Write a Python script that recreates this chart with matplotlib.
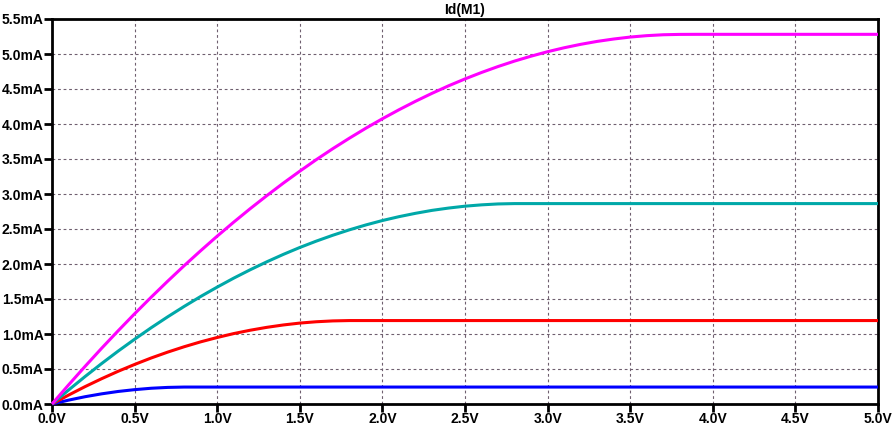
import matplotlib
matplotlib.use("Agg")
import matplotlib.pyplot as plt
from matplotlib.ticker import FuncFormatter

# Drain current curves (Vds in V, Id in mA)
vds_magenta = [0.0, 0.1, 0.2, 0.3, 0.4, 0.5, 0.6, 0.7, 0.8, 0.9, 1.0, 1.1, 1.2, 1.3, 1.4, 1.5,
               1.6, 1.7, 1.8, 1.9, 2.0, 2.1, 2.2, 2.3, 2.4, 2.5, 2.6, 2.7, 2.8, 2.9, 3.0, 3.1,
               3.2, 3.3, 3.4, 3.5, 3.6, 3.7, 3.8, 3.9, 5.0]
id_magenta = [0.0, 0.272, 0.537, 0.795, 1.045, 1.289, 1.525, 1.754, 1.976, 2.190, 2.398, 2.598,
              2.791, 2.976, 3.155, 3.326, 3.491, 3.648, 3.797, 3.940, 4.075, 4.203, 4.324, 4.438,
              4.545, 4.644, 4.736, 4.821, 4.899, 4.969, 5.033, 5.089, 5.138, 5.180, 5.214, 5.242,
              5.262, 5.275, 5.280, 5.281, 5.281]

vds_teal = [0.0, 0.1, 0.2, 0.3, 0.4, 0.5, 0.6, 0.7, 0.8, 0.9, 1.0, 1.1, 1.2, 1.3, 1.4, 1.5,
            1.6, 1.7, 1.8, 1.9, 2.0, 2.1, 2.2, 2.3, 2.4, 2.5, 2.6, 2.7, 2.8, 5.0]
id_teal = [0.0, 0.199, 0.392, 0.577, 0.755, 0.925, 1.089, 1.245, 1.394, 1.536, 1.670, 1.798,
           1.918, 2.031, 2.137, 2.236, 2.327, 2.411, 2.488, 2.558, 2.621, 2.676, 2.724, 2.766,
           2.799, 2.826, 2.845, 2.858, 2.863, 2.863]

vds_red = [0.0, 0.1, 0.2, 0.3, 0.4, 0.5, 0.6, 0.7, 0.8, 0.9, 1.0, 1.1, 1.2, 1.3, 1.4, 1.5,
           1.6, 1.7, 1.8, 5.0]
id_red = [0.0, 0.127, 0.248, 0.361, 0.467, 0.565, 0.657, 0.741, 0.818, 0.888, 0.950, 1.006,
          1.054, 1.095, 1.129, 1.156, 1.175, 1.187, 1.192, 1.192]

vds_blue = [0.0, 0.1, 0.2, 0.3, 0.4, 0.5, 0.6, 0.7, 0.8, 5.0]
id_blue = [0.0, 0.055, 0.104, 0.145, 0.179, 0.205, 0.225, 0.237, 0.242, 0.242]

x_ticks = [0.0, 0.5, 1.0, 1.5, 2.0, 2.5, 3.0, 3.5, 4.0, 4.5, 5.0]
y_ticks = [0.0, 0.5, 1.0, 1.5, 2.0, 2.5, 3.0, 3.5, 4.0, 4.5, 5.0, 5.5]
title = "Id(M1)"

FONT = "Liberation Sans"
W, H = 896, 429
fig = plt.figure(figsize=(W / 100, H / 100), dpi=100)
L, R, T, B = 52, 878, 19, 404
ax = fig.add_axes([L / W, (H - B) / H, (R - L) / W, (B - T) / H])

series = [
    (vds_blue, id_blue, "#0000ff"),
    (vds_red, id_red, "#ff0000"),
    (vds_teal, id_teal, "#00a8a8"),
    (vds_magenta, id_magenta, "#ff00ff"),
]
for x, y, c in series:
    ax.plot(x, y, color=c, lw=2.2, solid_capstyle="butt", zorder=3, clip_on=False)

ax.set_xlim(0, 5.0)
ax.set_ylim(0, 5.5)
ax.set_xticks(x_ticks)
ax.set_yticks(y_ticks)
ax.xaxis.set_major_formatter(FuncFormatter(lambda v, p: f"{v:.1f}V"))
ax.yaxis.set_major_formatter(FuncFormatter(lambda v, p: f"{v:.1f}mA"))

ax.grid(True, color="#6f5f6f", linestyle=(0, (2.5, 2.5)), linewidth=0.8, zorder=1)
for s in ax.spines.values():
    s.set_linewidth(2)
    s.set_color("black")
ax.tick_params(direction="out", length=5.5, width=2, color="black", pad=0.5)
for lab in ax.get_xticklabels() + ax.get_yticklabels():
    lab.set_fontweight("bold")
    lab.set_fontsize(10)
    lab.set_fontfamily(FONT)
    lab.set_color("black")

fig.text(((L + R) / 2) / W, 1 - 10 / H, title, ha="center", va="center",
         fontsize=10, fontweight="bold", fontfamily=FONT, color="black")

fig.savefig("out.png", dpi=100, facecolor="white")
